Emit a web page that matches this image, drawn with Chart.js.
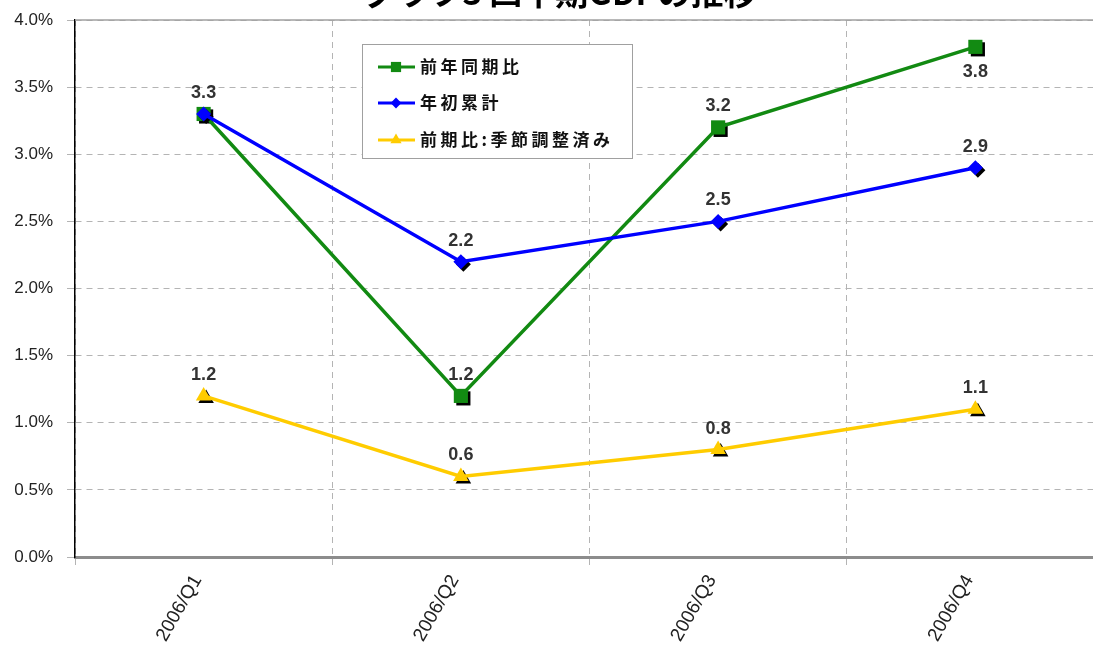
<!DOCTYPE html>
<html><head><meta charset="utf-8">
<script src="https://cdn.jsdelivr.net/npm/chart.js@4.4.0/dist/chart.umd.min.js"></script>
<style>
html,body{margin:0;padding:0;background:#fff;overflow:hidden;width:1093px;height:646px;position:relative;}
#c{position:absolute;left:0;top:-28px;}
</style></head><body>
<canvas id="c" width="1104" height="674" style="width:1104px;height:674px;"></canvas>
<script>
const titleText = 'グラフ3 四半期GDPの推移';
const categories = ['2006/Q1', '2006/Q2', '2006/Q3', '2006/Q4'];
const seriesNames = ['前年同期比', '年初累計', '前期比:季節調整済み'];
const yoyValues = [3.3, 1.2, 3.2, 3.8];
const ytdValues = [3.3, 2.2, 2.5, 2.9];
const qoqValues = [1.2, 0.6, 0.8, 1.1];
const yTickValues = [0, 0.5, 1.0, 1.5, 2.0, 2.5, 3.0, 3.5, 4.0];

const GREEN = '#128a12', BLUE = '#0000ff', YELLOW = '#ffcc00';
const SANS = '"Liberation Sans", Arial, sans-serif';
const JP = '"Noto Sans CJK JP", "Noto Sans", sans-serif';

function shapePath(ctx, style, x, y, r) {
  ctx.beginPath();
  if (style === 'rect') {
    const s = Math.SQRT1_2 * r;
    ctx.rect(x - s, y - s, 2 * s, 2 * s);
  } else if (style === 'rectRot') {
    ctx.moveTo(x, y - r); ctx.lineTo(x + r, y); ctx.lineTo(x, y + r); ctx.lineTo(x - r, y); ctx.closePath();
  } else if (style === 'triangle') {
    ctx.moveTo(x, y - r);
    ctx.lineTo(x + r * Math.sin(2 * Math.PI / 3), y - r * Math.cos(2 * Math.PI / 3));
    ctx.lineTo(x + r * Math.sin(4 * Math.PI / 3), y - r * Math.cos(4 * Math.PI / 3));
    ctx.closePath();
  }
}

const shadowPlugin = {
  id: 'markerShadow',
  beforeDatasetDraw(chart, args) {
    const ds = chart.data.datasets[args.index];
    const ctx = chart.ctx;
    ctx.save();
    ctx.fillStyle = '#000';
    args.meta.data.forEach(pt => {
      shapePath(ctx, ds.pointStyle, pt.x + 2.5, pt.y + 2.5, ds.pointRadius);
      ctx.fill();
    });
    ctx.restore();
  }
};

const frameAndLabels = {
  id: 'frameAndLabels',
  beforeDatasetsDraw(chart) {
    const ctx = chart.ctx, a = chart.chartArea;
    ctx.save();
    ctx.strokeStyle = '#a0a0a0';
    ctx.lineWidth = 1.5;
    ctx.beginPath();
    ctx.moveTo(a.left, a.top); ctx.lineTo(a.right, a.top);
    ctx.stroke();
    ctx.restore();
  },
  afterDatasetsDraw(chart) {
    const ctx = chart.ctx;
    ctx.save();
    ctx.font = 'bold 18px ' + SANS;
    ctx.fillStyle = '#333';
    ctx.textAlign = 'center';
    ctx.textBaseline = 'middle';
    chart.data.datasets.forEach((ds, i) => {
      const meta = chart.getDatasetMeta(i);
      meta.data.forEach((pt, j) => {
        const pos = ds.labelPos[j];
        if (!pos) return;
        const dy = pos === 'below' ? 25 : -21;
        ctx.fillText(ds.data[j].toFixed(1), pt.x, pt.y + dy);
      });
    });
    ctx.restore();
  },
  afterDraw(chart) {
    const ctx = chart.ctx, a = chart.chartArea;
    ctx.save();
    // chart title (top part falls outside the visible window, as in the reference)
    ctx.fillStyle = '#000';
    ctx.font = 'bold 33px ' + JP;
    ctx.textAlign = 'center';
    ctx.textBaseline = 'middle';
    ctx.fillText(titleText, 560, a.top - 28);

    const bx = a.left + 287, by = a.top + 24, bw = 270, bh = 114;
    ctx.fillStyle = '#fff';
    ctx.fillRect(bx, by, bw, bh);
    ctx.strokeStyle = '#a0a0a0';
    ctx.lineWidth = 1;
    ctx.strokeRect(bx + 0.5, by + 0.5, bw, bh);
    const rowY = [23, 59, 96];
    [0, 1, 2].forEach((i, k) => {
      const ds = chart.data.datasets[i];
      const y = by + rowY[k];
      ctx.strokeStyle = ds.borderColor;
      ctx.lineWidth = 3;
      ctx.beginPath();
      ctx.moveTo(bx + 16, y); ctx.lineTo(bx + 53, y);
      ctx.stroke();
      ctx.fillStyle = ds.backgroundColor;
      shapePath(ctx, ds.pointStyle, bx + 34, y, ds.pointRadius * 0.72);
      ctx.fill();
      ctx.fillStyle = '#111';
      ctx.font = 'bold 17px ' + JP;
      try { ctx.letterSpacing = '3.5px'; } catch (e) {}
      ctx.textAlign = 'left';
      ctx.textBaseline = 'middle';
      ctx.fillText(ds.label, bx + 58, y);
      try { ctx.letterSpacing = '0px'; } catch (e) {}
    });
    ctx.restore();
  }
};

new Chart(document.getElementById('c'), {
  type: 'line',
  data: {
    labels: categories,
    datasets: [
      { label: seriesNames[0], data: yoyValues, borderColor: GREEN, backgroundColor: GREEN,
        borderWidth: 3.5, pointStyle: 'rect', pointRadius: 10, pointBorderWidth: 0,
        tension: 0, order: 1, labelPos: ['above', 'above', 'above', 'below'] },
      { label: seriesNames[1], data: ytdValues, borderColor: BLUE, backgroundColor: BLUE,
        borderWidth: 3.5, pointStyle: 'rectRot', pointRadius: 7.5, pointBorderWidth: 0,
        tension: 0, order: 0, labelPos: [null, 'above', 'above', 'above'] },
      { label: seriesNames[2], data: qoqValues, borderColor: YELLOW, backgroundColor: YELLOW,
        borderWidth: 3.5, pointStyle: 'triangle', pointRadius: 9, pointBorderWidth: 0,
        tension: 0, order: 2, labelPos: ['above', 'above', 'above', 'above'] }
    ]
  },
  options: {
    responsive: false,
    devicePixelRatio: 1,
    animation: false,
    events: [],
    layout: { autoPadding: false, padding: { left: 0, right: 0, top: 48, bottom: 0 } },
    plugins: {
      legend: { display: false },
      tooltip: { enabled: false },
      title: { display: false }
    },
    scales: {
      x: {
        type: 'category',
        offset: true,
        grid: { offset: true, color: '#b4b4b4', lineWidth: 1, tickLength: 8, drawTicks: true },
        border: { display: true, color: '#8c8c8c', width: 3, dash: [6, 5] },
        ticks: { color: '#222', font: { family: SANS, size: 19 }, minRotation: 60, maxRotation: 60,
          padding: 6, labelOffset: -6, autoSkip: false },
        afterFit(scale) { scale.height = 89; scale.paddingLeft = 0; scale.paddingRight = 0; }
      },
      y: {
        min: 0, max: 4,
        afterBuildTicks(scale) { scale.ticks = yTickValues.map(v => ({ value: v })); },
        grid: { color: '#b4b4b4', lineWidth: 1, tickLength: 8 },
        border: { display: true, color: '#000', width: 1.5, dash: [6, 5] },
        ticks: { color: '#222', font: { family: SANS, size: 17 }, padding: 14,
          callback: v => Number(v).toFixed(1) + '%' },
        afterFit(scale) { scale.width = 75; }
      }
    }
  },
  plugins: [shadowPlugin, frameAndLabels]
});
</script>
</body></html>
